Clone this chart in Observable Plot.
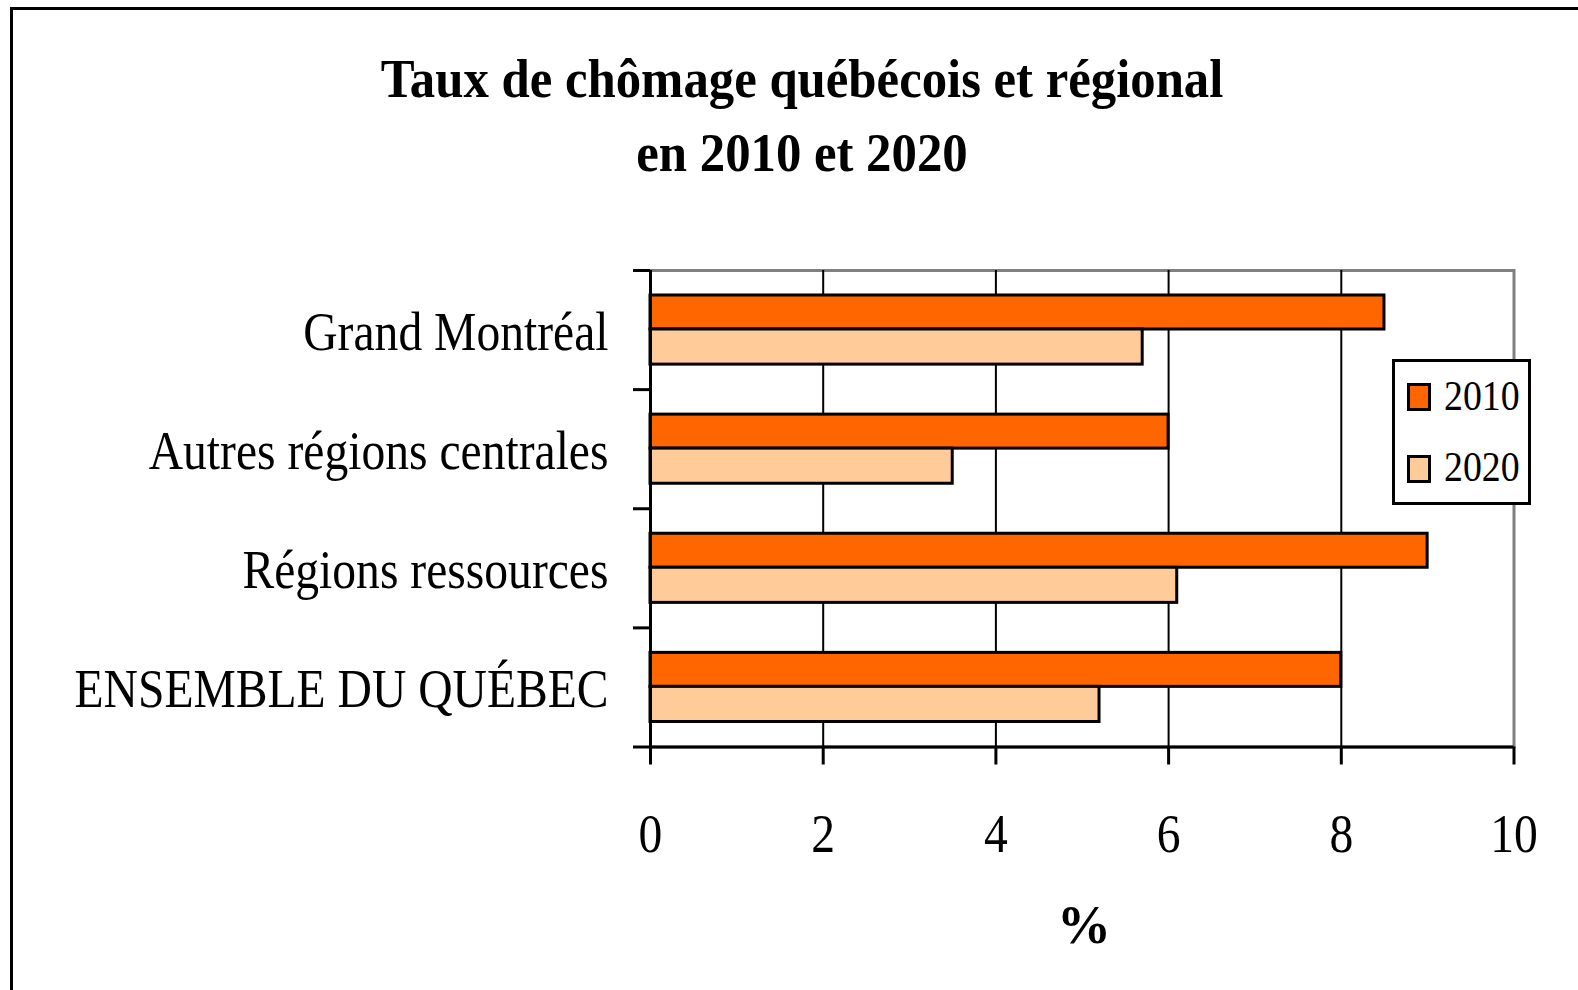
<!DOCTYPE html>
<html>
<head>
<meta charset="utf-8">
<script src="https://cdn.jsdelivr.net/npm/d3@7"></script>
<script src="https://cdn.jsdelivr.net/npm/@observablehq/plot@0.6"></script>
<style>
  body { margin: 0; background: #fff; }
  #page { position: relative; width: 1578px; height: 990px; overflow: hidden; background: #fff;
          font-family: "Liberation Serif", "Times New Roman", serif; color: #000; }
  #border { position: absolute; left: 10px; top: 7px; width: 1600px; height: 1000px;
            border-left: 3px solid #000; border-top: 3px solid #000; }
  #title { position: absolute; left: 0; width: 1604px; top: 41.5px; text-align: center;
           font-weight: bold; font-size: 54px; line-height: 74px;
           transform: scaleX(0.94); transform-origin: 802px 0; }
  #chart { position: absolute; left: 0; top: 200px; }
  #xlabel { position: absolute; left: 984px; width: 200px; top: 898px; text-align: center;
            font-weight: bold; font-size: 54px; line-height: 54px; }
  #legend { position: absolute; left: 1391.5px; top: 359px; width: 139.5px; height: 145.5px;
            box-sizing: border-box; border: 3px solid #000; background: #fff; }
  .sw { position: absolute; left: 12px; width: 24.5px; height: 27.5px; box-sizing: border-box;
        border: 3px solid #000; }
  .lt { position: absolute; left: 49.5px; font-size: 42px; line-height: 42px; white-space: nowrap;
        transform: scaleX(0.9); transform-origin: 0 0; }
</style>
</head>
<body>
<div id="page">
  <div id="border"></div>
  <div id="title"></div>
  <div id="chart"></div>
  <div id="xlabel"></div>
  <div id="legend"></div>
</div>
<script>
// ---- data ----
const titleLines = ["Taux de chômage québécois et régional", "en 2010 et 2020"];
const categories = ["Grand Montréal", "Autres régions centrales", "Régions ressources", "ENSEMBLE DU QUÉBEC"];
const years = ["2010", "2020"];
const values2010 = [8.5, 6.0, 9.0, 8.0];
const values2020 = [5.7, 3.5, 6.1, 5.2];
const xTicks = [0, 2, 4, 6, 8, 10];
const xLabel = "%";
const colors = ["#FF6600", "#FFCC99"];

// ---- tables ----
const rows2010 = categories.map((c, i) => ({region: c, year: years[0], value: values2010[i]}));
const rows2020 = categories.map((c, i) => ({region: c, year: years[1], value: values2020[i]}));

// ---- layout ----
const W = 1578, H = 790, mt = 70, mb = 243.5, ml = 650, mr = 64.5;
const bw = (H - mt - mb) / categories.length;
const pad = 25, barH = 34;

const chart = Plot.plot({
  width: W, height: H,
  marginTop: mt, marginBottom: mb, marginLeft: ml, marginRight: mr,
  style: {fontFamily: "'Liberation Serif', 'Times New Roman', serif", fontSize: "56px", color: "#000", background: "transparent", overflow: "visible"},
  x: {domain: [xTicks[0], xTicks[xTicks.length - 1]], label: null},
  y: {domain: categories, padding: 0, round: false, label: null},
  color: {domain: years, range: colors},
  marks: [
    Plot.frame({stroke: "#808080", strokeWidth: 3}),
    Plot.ruleX(xTicks.slice(1, -1), {stroke: "#000", strokeWidth: 2}),
    Plot.barX(rows2010, {x: "value", y: "region", fill: "year", stroke: "#000", strokeWidth: 3,
      insetTop: pad, insetBottom: bw - pad - barH}),
    Plot.barX(rows2020, {x: "value", y: "region", fill: "year", stroke: "#000", strokeWidth: 3,
      insetTop: pad + barH, insetBottom: pad}),
    Plot.ruleX([xTicks[0]], {stroke: "#000", strokeWidth: 3}),
    Plot.ruleY([categories[categories.length - 1]], {stroke: "#000", strokeWidth: 3, dy: bw / 2}),
    Plot.axisY({tickSize: 0, tickPadding: 42, fontSize: 56, dy: 2}),
    Plot.axisY(categories, {tickSize: 17, fill: "none", stroke: "#000", strokeWidth: 3, dy: -bw / 2}),
    Plot.axisY([categories[categories.length - 1]], {tickSize: 17, fill: "none", stroke: "#000", strokeWidth: 3, dy: bw / 2}),
    Plot.axisX({ticks: xTicks, tickSize: 18, tickPadding: 47.7, fontSize: 56, stroke: "#000", strokeWidth: 3, label: null})
  ]
});

// horizontally condense the serif text like the reference
d3.select(chart).selectAll("text").each(function() {
  const el = this;
  const x = +el.getAttribute("x") || 0, y = +el.getAttribute("y") || 0;
  const t = el.getAttribute("transform") || "";
  el.setAttribute("transform", `${t} translate(${x},${y}) scale(0.85,1) translate(${-x},${-y})`);
});

document.getElementById("chart").appendChild(chart);

// title
d3.select("#title").selectAll("div").data(titleLines).join("div").text(d => d);
d3.select("#xlabel").text(xLabel);

// legend
const legend = d3.select("#legend");
const tops = [21, 93], textTops = [12.5, 84.2];
years.forEach((yr, i) => {
  legend.append("div").attr("class", "sw").style("top", tops[i] + "px").style("background", colors[i]);
  legend.append("div").attr("class", "lt").style("top", textTops[i] + "px").text(yr);
});
</script>
</body>
</html>
